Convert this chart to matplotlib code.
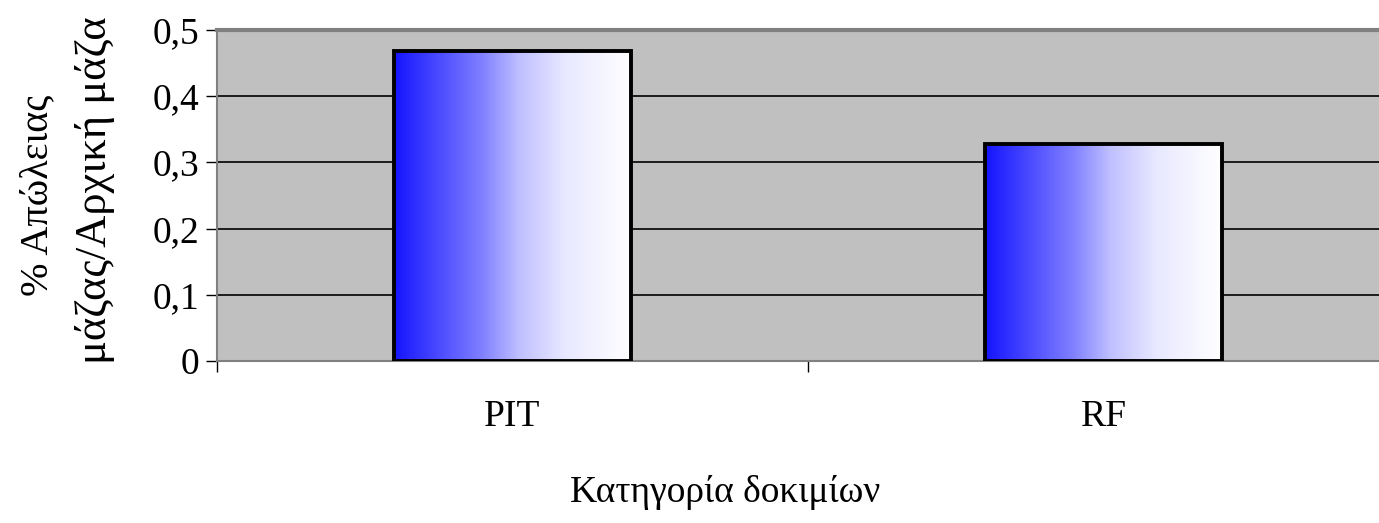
import matplotlib
matplotlib.use("Agg")
import matplotlib.pyplot as plt
import numpy as np
from matplotlib.colors import LinearSegmentedColormap

categories = ["PIT", "RF"]
values = [0.468, 0.328]
yticks = [0, 0.1, 0.2, 0.3, 0.4, 0.5]
ytick_labels = ["0", "0,1", "0,2", "0,3", "0,4", "0,5"]

plt.rcParams['font.family'] = ['Liberation Serif', 'DejaVu Serif']

fig = plt.figure(figsize=(13.79, 5.23), dpi=100)
ax = fig.add_axes([217/1379, 162/523, 1182/1379, 331/523])
ax.set_facecolor("#C0C0C0")

# blue -> white gradient like the old Excel fill
grad = LinearSegmentedColormap.from_list("bw", [
    (0.0, (0.08, 0.08, 1.0)),
    (0.15, (0.25, 0.25, 1.0)),
    (0.37, (0.5, 0.5, 1.0)),
    (0.53, (0.75, 0.75, 1.0)),
    (0.72, (0.91, 0.91, 1.0)),
    (1.0, (1.0, 1.0, 1.0)),
])
gimg = np.linspace(0, 1, 256).reshape(1, -1)

x = np.arange(len(categories))
bars = ax.bar(x, values, width=0.4, facecolor="none", edgecolor="black",
              linewidth=2.8, zorder=3)
for b in bars:
    x0, w, h = b.get_x(), b.get_width(), b.get_height()
    im = ax.imshow(gimg, cmap=grad, extent=[x0, x0 + w, 0, h],
                   aspect="auto", zorder=2, interpolation="bilinear")
    im.set_clip_path(b)

ax.set_xlim(-0.5, 1.5)
ax.set_ylim(0, 0.5)
ax.set_yticks(yticks)
ax.set_yticklabels(ytick_labels, fontsize=27)
ax.yaxis.grid(True, color="black", linewidth=1.2, zorder=1)
ax.set_axisbelow(True)

ax.set_xticks(x)
ax.set_xticklabels(categories, fontsize=27)
ax.tick_params(axis="x", which="major", length=0, pad=28)
ax.set_xticks([-0.5, 0.5, 1.5], minor=True)
ax.tick_params(axis="x", which="minor", length=8, width=1, color="black")
ax.tick_params(axis="y", length=8, width=1, color="black", pad=5)

for s in ["top", "left", "bottom"]:
    ax.spines[s].set_color("#808080")
ax.spines["top"].set_linewidth(3)
ax.spines["left"].set_linewidth(1.5)
ax.spines["bottom"].set_linewidth(1.5)
ax.spines["right"].set_visible(False)

fig.text(725/1379, 1 - 493/523, "Κατηγορία δοκιμίων", fontsize=27,
         ha="center", va="center")
fig.text(38/1379, 1 - 195/523, "% Απώλειας", fontsize=29, rotation=90,
         ha="center", va="center")
fig.text(95/1379, 1 - 190/523, "μάζας/Αρχική μάζα", fontsize=32,
         rotation=90, ha="center", va="center")

fig.savefig("out.png", dpi=100)
